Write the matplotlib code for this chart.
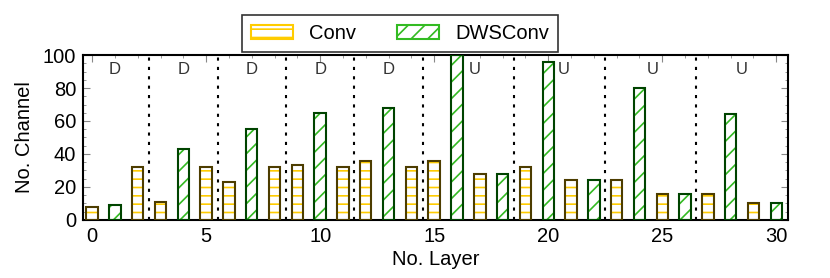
import numpy as np
import matplotlib
matplotlib.use("Agg")
import matplotlib.pyplot as plt
from matplotlib.patches import Patch
from matplotlib.ticker import MultipleLocator

plt.rcParams["font.family"] = ["Liberation Sans", "DejaVu Sans"]
plt.rcParams["hatch.linewidth"] = 1.2

layers = list(range(31))
kinds = ["Conv", "DWSConv", "Conv", "Conv", "DWSConv", "Conv", "Conv", "DWSConv",
         "Conv", "Conv", "DWSConv", "Conv", "Conv", "DWSConv", "Conv", "Conv",
         "DWSConv", "Conv", "DWSConv", "Conv", "DWSConv", "Conv", "DWSConv", "Conv",
         "DWSConv", "Conv", "DWSConv", "Conv", "DWSConv", "Conv", "DWSConv"]
channels = [8, 9, 32, 11, 43, 32, 23, 55, 32, 33, 65, 32, 36, 68, 32, 36,
            100, 28, 28, 32, 96, 24, 24, 24, 80, 16, 16, 16, 64, 10, 10]
block_edges = [2.5, 5.5, 8.5, 11.5, 14.5, 18.5, 22.5, 26.5]
block_labels = ["D", "D", "D", "D", "D", "U", "U", "U", "U"]
label_x = [1, 4, 7, 10, 13, 16.8, 20.7, 24.6, 28.5]

styles = {
    "Conv": dict(hatch_col="#ffcc00", edge="#4d3d00", hatch="--"),
    "DWSConv": dict(hatch_col="#33bb22", edge="#004400", hatch="//"),
}

fig = plt.figure(figsize=(8.3, 2.78), dpi=100)
ax = fig.add_axes([0.1, 0.209, 0.849, 0.593])

x = np.array(layers)
h = np.array(channels)
for k, s in styles.items():
    m = np.array([kk == k for kk in kinds])
    ax.bar(x[m], h[m], width=0.5, color="white", edgecolor=s["hatch_col"],
           hatch=s["hatch"], linewidth=0, zorder=2)
    ax.bar(x[m], h[m], width=0.5, fill=False, edgecolor=s["edge"],
           linewidth=1.5, zorder=3)

for e in block_edges:
    ax.axvline(e, color="black", linestyle=(0, (1.5, 3)), linewidth=1.5, zorder=1)
for lx, lb in zip(label_x, block_labels):
    ax.text(lx, 91, lb, ha="center", va="center", fontsize=12, color="#333333")

ax.set_xlim(-0.4, 30.5)
ax.set_ylim(0, 100)
ax.xaxis.set_major_locator(MultipleLocator(5))
ax.xaxis.set_minor_locator(MultipleLocator(1))
ax.yaxis.set_major_locator(MultipleLocator(20))
ax.yaxis.set_minor_locator(MultipleLocator(5))
ax.tick_params(which="both", direction="in", top=True, right=True,
               color="#888888", labelsize=14.5, pad=5)
ax.tick_params(which="major", length=5)
ax.tick_params(which="minor", length=2.5)
for sp in ax.spines.values():
    sp.set_linewidth(1.5)
ax.set_xlabel("No. Layer", fontsize=14.5, labelpad=3)
ax.set_ylabel("No. Channel", fontsize=14.5, labelpad=6)

handles = [Patch(facecolor="white", edgecolor=styles[k]["hatch_col"],
                 hatch=styles[k]["hatch"], linewidth=1.5, label=k)
           for k in styles]
leg = fig.legend(handles=handles, ncol=2, loc="upper center",
                 bbox_to_anchor=(0.482, 0.946), fontsize=14.5, frameon=True,
                 fancybox=False, edgecolor="black", handlelength=2.1,
                 handleheight=0.75, handletextpad=0.8, columnspacing=2.0,
                 borderaxespad=0, borderpad=0.45)
leg.get_frame().set_linewidth(1.2)

fig.savefig("out.png", dpi=100)
